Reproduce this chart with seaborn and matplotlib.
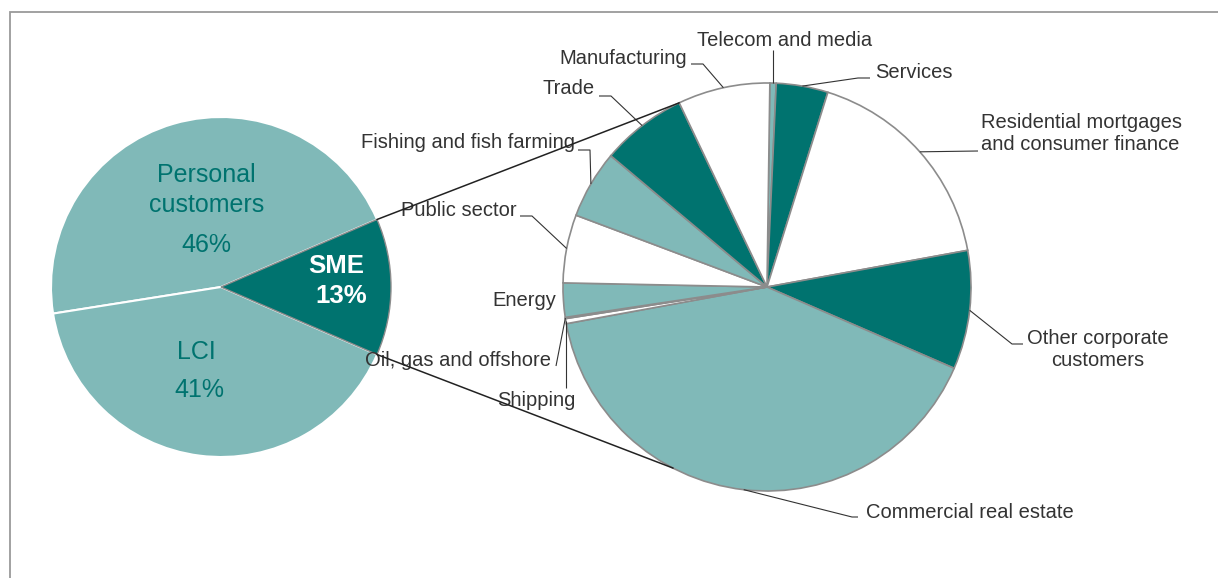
import numpy as np
import matplotlib
matplotlib.use("Agg")
import matplotlib.pyplot as plt
from matplotlib.patches import Rectangle
import seaborn as sns

# Loan book split (percent)
main_labels = ["SME", "Personal customers", "LCI"]
main_values = [13, 46, 41]

# SME breakdown by sector (percent), clockwise from the top
sector_labels = [
    "Telecom and media", "Services",
    "Residential mortgages\nand consumer finance",
    "Other corporate\ncustomers", "Commercial real estate", "Shipping",
    "Oil, gas and offshore", "Energy", "Public sector",
    "Fishing and fish farming", "Trade", "Manufacturing",
]
sector_values = [0.5, 4.1, 17.3, 9.4, 40.6, 0.4, 0.1, 2.7, 5.4, 5.4, 6.8, 7.3]

DARK = "#00736F"
LIGHT = "#80B9B8"
WHITE = "#FFFFFF"
EDGE = "#8C8C8C"
INK = "#333333"
sector_colors = [LIGHT, DARK, WHITE, DARK, LIGHT, WHITE,
                 DARK, LIGHT, WHITE, LIGHT, DARK, WHITE]

sns.set_theme(style="white")
plt.rcParams["font.family"] = ["Liberation Sans", "DejaVu Sans"]

W, H = 1218, 578
fig = plt.figure(figsize=(W / 100, H / 100), dpi=100)
ax = fig.add_axes([0, 0, 1, 1])


def Y(y):
    """Convert a top-down pixel row to the upward axis coordinate."""
    return H - y


def rim(center, radius, angle):
    a = np.deg2rad(angle)
    return center[0] + radius * np.cos(a), center[1] + radius * np.sin(a)


main_c, main_r = (221, Y(287)), 170
sub_c, sub_r = (767, Y(287)), 204

# Main pie: SME wedge centred on the right
main_wedges, _ = ax.pie(
    main_values, colors=[DARK, LIGHT, LIGHT],
    startangle=-main_values[0] * 3.6 / 2, counterclock=True,
    center=main_c, radius=main_r,
    wedgeprops=dict(edgecolor="white", linewidth=1.5),
)
main_wedges[0].set_edgecolor(EDGE)
main_wedges[0].set_linewidth(1.0)
main_wedges[0].set_zorder(3)

# Sector pie
sub_wedges, _ = ax.pie(
    sector_values, colors=sector_colors,
    startangle=89.2, counterclock=False,
    center=sub_c, radius=sub_r,
    wedgeprops=dict(edgecolor=EDGE, linewidth=1.2),
)

ax.set_xlim(0, W)
ax.set_ylim(0, H)
ax.set_aspect("equal")
ax.axis("off")

# Main pie labels
lab_kw = dict(ha="center", va="center", color=DARK, fontsize=18)
first, second = main_labels[1].split(" ")
ax.text(206, Y(175), first, **lab_kw)
ax.text(207, Y(205), second, **lab_kw)
ax.text(206, Y(245), f"{main_values[1]}%", **lab_kw)
ax.text(196, Y(352), main_labels[2], **lab_kw)
ax.text(199, Y(390), f"{main_values[2]}%", **lab_kw)
sme_kw = dict(ha="center", va="center", color="white", fontsize=18.5,
              fontweight="bold", zorder=5)
ax.text(336, Y(266), main_labels[0], **sme_kw)
ax.text(341, Y(296), f"{main_values[0]}%", **sme_kw)

# Sector labels: text anchor, alignment and leader path (pixel rows top-down)
layout = {
    "Telecom and media": ((785, 40), "center", [(774, 50)]),
    "Services": ((875, 72), "left", [(858, 78), (870, 78)]),
    "Residential mortgages\nand consumer finance": ((981, 134), "left", [(978, 151)]),
    "Other corporate\ncustomers": ((1098, 349), "center", [(1012, 344), (1023, 344)]),
    "Commercial real estate": ((866, 512), "left", [(852, 517), (858, 517)]),
    "Shipping": ((536, 401), "center", [(566, 388)]),
    "Oil, gas and offshore": ((551, 360), "right", [(556, 366)]),
    "Energy": ((556, 300), "right", []),
    "Public sector": ((517, 210), "right", [(532, 216), (520, 216)]),
    "Fishing and fish farming": ((575, 143), "right", [(590, 150), (578, 150)]),
    "Trade": ((595, 89), "right", [(611, 96), (599, 96)]),
    "Manufacturing": ((687, 58), "right", [(703, 64), (691, 64)]),
}

for label, wedge in zip(sector_labels, sub_wedges):
    (tx, ty), ha, path = layout[label]
    mid = 0.5 * (wedge.theta1 + wedge.theta2)
    ex, ey = rim(sub_c, sub_r, mid)
    if path:
        xs = [ex] + [p[0] for p in path]
        ys = [ey] + [Y(p[1]) for p in path]
        if label in ("Telecom and media", "Shipping"):
            xs[1] = ex
        ax.plot(xs, ys, color=INK, lw=0.8, zorder=4, solid_capstyle="butt")
    ax.text(tx, Y(ty), label, ha=ha, va="center", multialignment=ha,
            fontsize=14.5, color=INK, linespacing=1.2)

# Connector lines from the SME wedge to the sector pie
LOWER_LINK_ANGLE = -117.4
sme = main_wedges[0]
top_start = rim(main_c, main_r, sme.theta2)
bot_start = rim(main_c, main_r, sme.theta1)
top_end = rim(sub_c, sub_r, sub_wedges[-1].theta2)
bot_end = rim(sub_c, sub_r, LOWER_LINK_ANGLE)
for s, e in ((top_start, top_end), (bot_start, bot_end)):
    ax.plot([s[0], e[0]], [s[1], e[1]], color="#222222", lw=1.1, zorder=6)

# Chart frame
fig.add_artist(Rectangle((10 / W, -0.1), 1.2, (H - 11.5) / H + 0.1,
                         transform=fig.transFigure, fill=False,
                         edgecolor="#9A9A9A", linewidth=1.3))

fig.savefig("out.png", dpi=100)
